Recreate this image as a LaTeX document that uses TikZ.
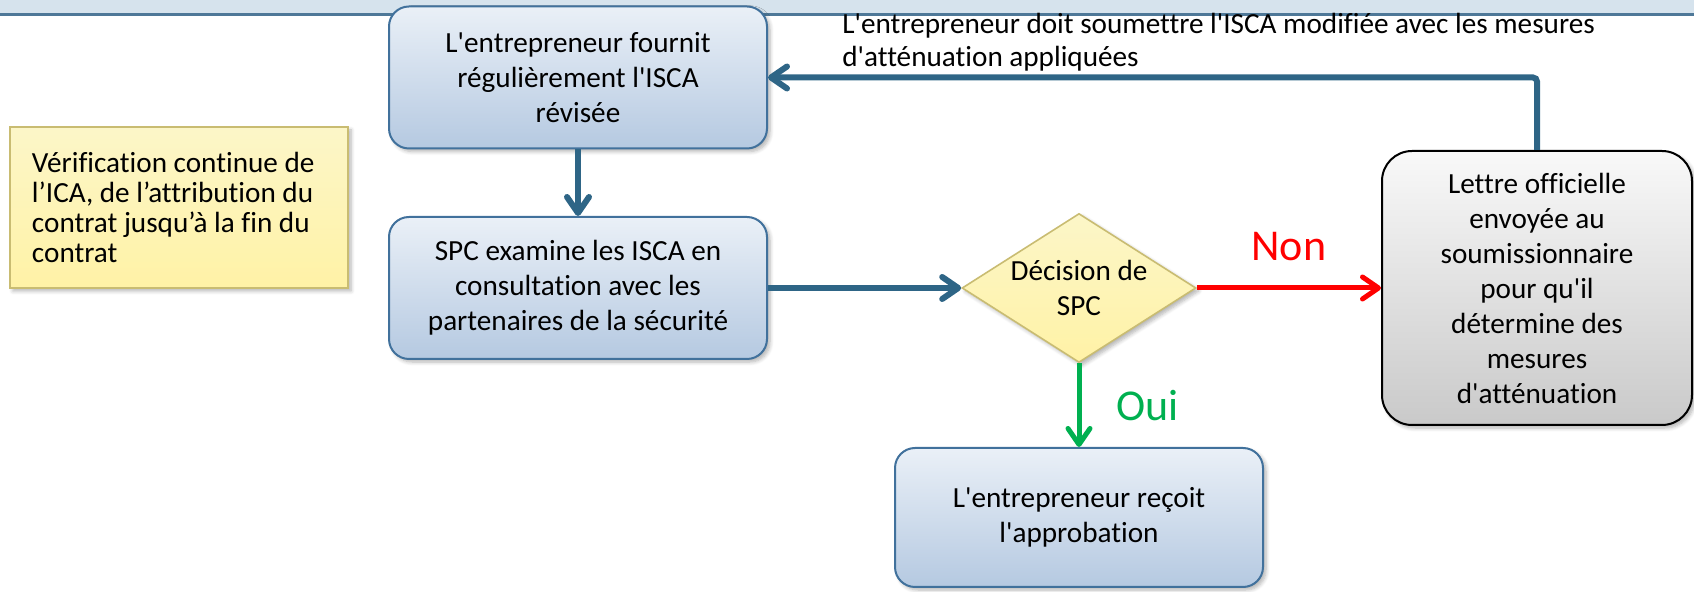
\documentclass[tikz,border=0pt]{standalone}
\usepackage{fontspec}
\setmainfont{Carlito}[Ligatures={TeXOff,NoCommon}]
\usetikzlibrary{positioning,shapes.geometric,arrows.meta,shadows.blur}

\definecolor{flowblue}{HTML}{2E6586}
\definecolor{boxedge}{HTML}{41719C}
\definecolor{boxtop}{HTML}{EAF0F7}
\definecolor{boxbot}{HTML}{B5C9E1}
\definecolor{notetop}{HTML}{FCF6C8}
\definecolor{notebot}{HTML}{FFF2A6}
\definecolor{noteedge}{HTML}{C9BC72}
\definecolor{bannerfill}{HTML}{D6E3ED}
\definecolor{bannerline}{HTML}{4E7898}
\definecolor{ouigreen}{HTML}{00B050}

\begin{document}
\begin{tikzpicture}[x=0.5pt,y=-0.5pt,node distance=105.25pt,
    font=\fontsize{14.6}{17.5}\selectfont,
    shade/.style={blur shadow={shadow xshift=1.5pt,shadow yshift=-1.5pt,shadow opacity=30,shadow blur steps=6}},
    main node/.style={rectangle,rounded corners=10pt,draw=boxedge,line width=1pt,top color=boxtop,bottom color=boxbot,minimum width=189pt,minimum height=71pt,align=center,shade},
    decision/.style={diamond,aspect=1.57,draw=noteedge,line width=0.8pt,top color=notetop,bottom color=notebot,minimum width=117pt,minimum height=74.5pt,inner sep=0pt,align=center,shade},
    letter node/.style={rectangle,rounded corners=15pt,draw=black,line width=1pt,top color=gray!5,bottom color=gray!42,minimum width=155pt,minimum height=137pt,align=center,shade},
    note/.style={rectangle,draw=noteedge,line width=0.8pt,top color=notetop,bottom color=notebot,minimum width=169pt,minimum height=80.5pt,inner xsep=11pt,text width=147pt,align=flush left,font=\fontsize{14.6}{15}\selectfont,shade},
    flow/.style={line width=3pt,flowblue,-{Straight Barb[round,length=8pt,width=11pt]}},
    answer/.style={font=\fontsize{22}{26}\selectfont}]

    \useasboundingbox (0,0) rectangle (1694,592);
    \fill[bannerfill] (0,0) rectangle (1694,13.5);
    \draw[bannerline,line width=1.2pt] (0,14.5) -- (1694,14.5);

    \node[note] (0) at (179,207.5) {Vérification continue de\\l’ICA, de l’attribution du\\contrat jusqu’à la fin du\\contrat};

    \node[main node] (1) at (578,77.5) {L'entrepreneur fournit\\régulièrement l'ISCA\\révisée};
    \node[main node] (2) [below of=1] {SPC examine les ISCA en\\consultation avec les\\partenaires de la sécurité};
    \node[decision] (3) [right of=2,node distance=250.5pt] {Décision de\\SPC};
    \node[letter node] (4) [right of=3,node distance=229pt] {Lettre officielle\\envoyée au\\soumissionnaire\\pour qu'il\\détermine des\\mesures\\d'atténuation};
    \node[main node,minimum width=184pt,minimum height=69.5pt] (5) [below of=3,node distance=114.75pt] {L'entrepreneur reçoit\\l'approbation};

    % base of a two-line node is its last line
    \node[align=left,anchor=base west,inner sep=0pt,font=\fontsize{14.6}{16.5}\selectfont] (6) at (842,67)
        {L'entrepreneur doit soumettre l'ISCA modifiée avec les mesures\\d'atténuation appliquées};

    \draw[flow] (1) -- (2);
    \draw[flow] (2) -- (3);
    \draw[flow,red,line width=2.5pt] (3.east) -- node[answer,above=9pt] {Non} (3.east -| 4.west);
    \draw[flow,ouigreen,line width=2.5pt] (3.south) -- node[answer,right=14pt] {Oui} (3.south |- 5.north);
    \draw[flow,rounded corners=2pt] (4.north) |- (1.east);

\end{tikzpicture}
\end{document}
